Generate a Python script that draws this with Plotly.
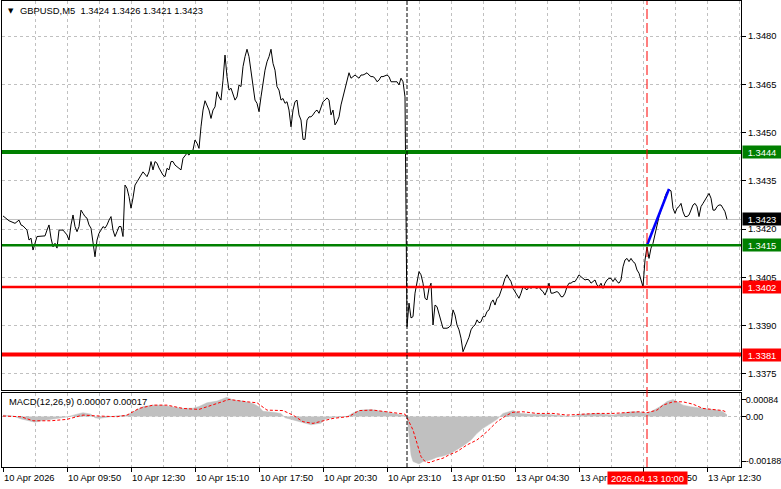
import plotly.graph_objects as go

# ---------------- data ----------------
symbol = "GBPUSD,M5"
ohlc_last = [1.3424, 1.3426, 1.3421, 1.3423]

bar_idx = [0, 3, 6, 8, 9, 10, 12, 13, 14, 15, 17, 19, 21, 22, 23, 24, 25, 26, 27, 28,
           30, 32, 33, 34, 35, 36, 37, 38, 39, 40, 41, 42, 43, 44, 45, 46, 47, 48, 49, 50,
           51, 52, 53, 54, 55, 56, 57, 58, 59, 60, 61, 62, 63, 64, 65, 66, 67, 68, 69, 70,
           72, 73, 74, 75, 76, 77, 78, 79, 80, 81, 82, 83, 84, 85, 86, 87, 88, 89, 90, 91,
           92, 93, 94, 95, 96, 97, 98, 99, 100, 101, 102, 103, 104, 105, 106, 107, 108, 109, 110, 111,
           112, 113, 114, 115, 116, 117, 118, 119, 120, 121, 122, 123, 124, 125, 126, 127, 128, 129, 130, 131,
           132, 133, 134, 135, 136, 137, 138, 139, 140, 141, 142, 143, 144, 145, 146, 147, 148, 149, 150, 151,
           152, 153, 154, 155, 156, 157, 158, 159, 160, 161, 162, 163, 164, 165, 166, 167, 168, 169, 170, 171,
           172, 173, 174, 175, 176, 177, 178, 179, 180, 181, 182, 183, 184, 185, 186, 187, 188, 189, 190, 192,
           193, 194, 195, 197, 198, 199, 200, 201, 202, 203, 204, 205, 206, 207, 208, 209, 210, 211, 212, 213,
           214, 215, 216, 217, 218, 219, 220, 222, 223, 224, 225, 226, 227, 228, 229, 230, 231, 232, 233, 234,
           235, 236, 237, 238, 239, 240, 241, 242, 243, 244, 245, 246, 247, 248, 249, 250, 251, 252, 253, 254,
           255, 256, 257, 258, 259, 260, 261, 262, 263, 264, 265, 267, 268, 269, 270, 271, 272, 273, 274, 275,
           277, 278, 279, 280, 281, 282, 283, 284, 285, 286, 287, 288, 289, 290, 291, 292, 293, 294, 295, 296,
           297, 298, 299, 300, 301, 302, 303, 304, 305, 306, 307, 308, 309, 310, 311, 312, 313, 314, 315, 316,
           317, 318, 319, 320, 321, 322, 323, 324, 325, 326, 327, 328, 329, 330, 331, 332, 333, 334, 335, 336,
           337, 338, 339, 340, 341, 342, 343, 344, 345, 346, 347, 348, 349, 350, 351, 352, 353, 354, 355, 356,
           357, 358, 359, 360, 361, 362]

close = [1.34241, 1.34226, 1.34218, 1.34228, 1.34213, 1.34210, 1.34197, 1.34166, 1.34172, 1.34135,
         1.34177, 1.34179, 1.34179, 1.34197, 1.34213, 1.34172, 1.34145, 1.34156, 1.34141, 1.34197,
         1.34197, 1.34182, 1.34166, 1.34213, 1.34244, 1.34208, 1.34192, 1.34208, 1.34259, 1.34249,
         1.34239, 1.34234, 1.34213, 1.34203, 1.34161, 1.34114, 1.34166, 1.34187, 1.34197, 1.34208,
         1.34203, 1.34213, 1.34228, 1.34239, 1.34197, 1.34177, 1.34192, 1.34208, 1.34208, 1.34177,
         1.34337, 1.34327, 1.34301, 1.34265, 1.34297, 1.34337, 1.34347, 1.34359, 1.34368, 1.34378,
         1.34363, 1.34378, 1.34410, 1.34384, 1.34410, 1.34405, 1.34390, 1.34378, 1.34368, 1.34363,
         1.34389, 1.34384, 1.34410, 1.34410, 1.34399, 1.34394, 1.34389, 1.34384, 1.34420, 1.34430,
         1.34436, 1.34430, 1.34441, 1.34446, 1.34477, 1.34467, 1.34451, 1.34518, 1.34570, 1.34599,
         1.34586, 1.34570, 1.34544, 1.34570, 1.34580, 1.34627, 1.34611, 1.34601, 1.34663, 1.34741,
         1.34674, 1.34632, 1.34638, 1.34617, 1.34601, 1.34611, 1.34648, 1.34643, 1.34705, 1.34736,
         1.34759, 1.34736, 1.34694, 1.34653, 1.34601, 1.34591, 1.34565, 1.34611, 1.34653, 1.34694,
         1.34720, 1.34736, 1.34759, 1.34715, 1.34694, 1.34643, 1.34632, 1.34601, 1.34606, 1.34591,
         1.34596, 1.34570, 1.34518, 1.34570, 1.34596, 1.34601, 1.34555, 1.34539, 1.34479, 1.34479,
         1.34539, 1.34549, 1.34549, 1.34555, 1.34565, 1.34570, 1.34560, 1.34580, 1.34596, 1.34601,
         1.34608, 1.34601, 1.34555, 1.34570, 1.34524, 1.34534, 1.34549, 1.34586, 1.34611, 1.34632,
         1.34653, 1.34686, 1.34669, 1.34674, 1.34679, 1.34674, 1.34669, 1.34679, 1.34679, 1.34682,
         1.34686, 1.34679, 1.34674, 1.34674, 1.34669, 1.34658, 1.34663, 1.34674, 1.34674, 1.34679,
         1.34674, 1.34658, 1.34658, 1.34658, 1.34648, 1.34669, 1.34658, 1.34611, 1.33897, 1.33970,
         1.33924, 1.33928, 1.34001, 1.34042, 1.34068, 1.34058, 1.34032, 1.33985, 1.33980, 1.34016,
         1.34032, 1.33902, 1.33964, 1.33959, 1.33939, 1.33918, 1.33892, 1.33892, 1.33895, 1.33902,
         1.33949, 1.33933, 1.33902, 1.33887, 1.33861, 1.33819, 1.33835, 1.33850, 1.33864, 1.33887,
         1.33897, 1.33902, 1.33918, 1.33909, 1.33912, 1.33928, 1.33928, 1.33944, 1.33949, 1.33971,
         1.33980, 1.33964, 1.33985, 1.33990, 1.34006, 1.34026, 1.34047, 1.34058, 1.34047, 1.34037,
         1.34016, 1.34006, 1.33995, 1.33985, 1.34001, 1.34021, 1.34016, 1.34011, 1.34021, 1.34016,
         1.34021, 1.34016, 1.34021, 1.34011, 1.34006, 1.33995, 1.34011, 1.34032, 1.34001, 1.34001,
         1.34006, 1.34001, 1.33990, 1.33990, 1.34001, 1.34021, 1.34032, 1.34032, 1.34037, 1.34037,
         1.34047, 1.34058, 1.34052, 1.34047, 1.34042, 1.34044, 1.34042, 1.34032, 1.34037, 1.34042,
         1.34026, 1.34021, 1.34032, 1.34016, 1.34032, 1.34042, 1.34047, 1.34047, 1.34037, 1.34047,
         1.34037, 1.34032, 1.34042, 1.34083, 1.34104, 1.34109, 1.34099, 1.34109, 1.34099, 1.34094,
         1.34073, 1.34063, 1.34042, 1.34021, 1.34104, 1.34145, 1.34109, 1.34141, 1.34156, 1.34187,
         1.34218, 1.34239, 1.34259, 1.34275, 1.34301, 1.34316, 1.34322, 1.34319, 1.34265, 1.34249,
         1.34265, 1.34270, 1.34280, 1.34254, 1.34239, 1.34239, 1.34244, 1.34259, 1.34275, 1.34280,
         1.34270, 1.34239, 1.34270, 1.34280, 1.34291, 1.34301, 1.34311, 1.34296, 1.34259, 1.34259,
         1.34270, 1.34275, 1.34275, 1.34265, 1.34254, 1.34230]

macd_hist_bar = [0, 5, 9, 12, 16, 20, 25, 32, 37, 40, 44, 46, 48, 52, 57, 62, 64, 67, 70, 75,
                 80, 85, 90, 95, 98, 102, 107, 112, 115, 120, 125, 128, 130, 135, 139, 141, 145, 150, 154, 159,
                 161, 165, 172, 175, 179, 184, 189, 194, 199, 201, 202, 203, 204, 205, 208, 210, 214, 217, 220, 224,
                 227, 230, 234, 237, 240, 244, 247, 250, 254, 255, 259, 264, 272, 280, 284, 289, 297, 305, 310, 314,
                 317, 322, 325, 329, 332, 335, 337, 340, 344, 349, 354, 357, 360, 362]
macd_hist = [0.00006, 0.00002, -0.00010, -0.00015, -0.00024, -0.00017, -0.00010, -0.00002, 0.00010, 0.00016,
             0.00010, -0.00005, -0.00008, -0.00003, 0.00003, 0.00005, 0.00015, 0.00030, 0.00042, 0.00048,
             0.00047, 0.00040, 0.00034, 0.00035, 0.00042, 0.00058, 0.00065, 0.00081, 0.00070, 0.00065,
             0.00055, 0.00040, 0.00022, 0.00018, 0.00013, -0.00005, -0.00015, -0.00028, -0.00035, -0.00028,
             -0.00012, -0.00004, 0.00000, 0.00015, 0.00027, 0.00030, 0.00022, 0.00014, 0.00008, 0.00004,
             0.00000, -0.00099, -0.00162, -0.00190, -0.00200, -0.00190, -0.00183, -0.00172, -0.00167, -0.00155,
             -0.00141, -0.00124, -0.00099, -0.00071, -0.00050, -0.00029, -0.00012, 0.00013, 0.00023, 0.00025,
             0.00013, 0.00010, 0.00009, 0.00002, 0.00000, 0.00009, 0.00013, 0.00006, 0.00013, 0.00020,
             0.00020, 0.00013, 0.00025, 0.00044, 0.00063, 0.00072, 0.00063, 0.00048, 0.00041, 0.00034,
             0.00030, 0.00027, 0.00020, 0.00007]

macd_sig_bar = [0, 9, 15, 24, 32, 40, 48, 57, 62, 68, 75, 82, 90, 98, 107, 113, 122, 127, 132, 140,
                145, 150, 155, 160, 165, 173, 178, 185, 192, 197, 201, 203, 205, 207, 209, 211, 213, 217, 220, 223,
                227, 232, 237, 242, 247, 252, 255, 260, 267, 275, 282, 288, 297, 305, 312, 318, 322, 327, 330, 335,
                340, 345, 350, 355, 360, 362]
macd_sig = [0.00002, -0.00001, -0.00018, -0.00018, -0.00012, 0.00006, 0.00002, -0.00001, 0.00006, 0.00034,
            0.00048, 0.00048, 0.00034, 0.00030, 0.00055, 0.00072, 0.00062, 0.00058, 0.00027, 0.00025,
            0.00006, -0.00022, -0.00029, -0.00018, -0.00008, 0.00000, 0.00025, 0.00027, 0.00020, 0.00015,
            0.00010, -0.00022, -0.00057, -0.00113, -0.00169, -0.00190, -0.00195, -0.00183, -0.00176, -0.00162,
            -0.00148, -0.00120, -0.00099, -0.00064, -0.00022, 0.00006, 0.00018, 0.00020, 0.00013, 0.00013,
            0.00006, 0.00009, 0.00013, 0.00013, 0.00016, 0.00020, 0.00016, 0.00027, 0.00048, 0.00062,
            0.00062, 0.00052, 0.00034, 0.00030, 0.00025, 0.00017]
macd_params = "MACD(12,26,9)"
macd_last = [0.00007, 0.00017]

price_ticks = [1.3375, 1.3390, 1.3405, 1.3420, 1.3435, 1.3450, 1.3465, 1.3480]
macd_tick_text = ["0.00084", "0.00", "-0.00188"]

label_bars = [0, 32, 64, 96, 128, 160, 192, 224, 256, 288, 320, 352]
time_labels = ["10 Apr 2026", "10 Apr 09:50", "10 Apr 12:30", "10 Apr 15:10", "10 Apr 17:50",
               "10 Apr 20:30", "10 Apr 23:10", "13 Apr 01:50", "13 Apr 04:30", "13 Apr 07:10",
               "13 Apr 09:50", "13 Apr 12:30"]
grid_bars = [16, 48, 80, 112, 144, 176, 208, 240, 272, 304, 336, 368]

support_resistance = [1.3444, 1.3415, 1.3402, 1.3381]
level_kind = ["buy", "buy", "sell", "sell"]

separator_bar = 202
marker_bar = 322
marker_label = "2026.04.13 10:00"
trend_bars = [322, 333]
trend_prices = [1.3415, 1.34325]

# ---------------- geometry / style ----------------
W, H = 781, 489
ML, MR, MT, MB = 2, 40, 1, 22
PW, PH = W - ML - MR, H - MT - MB
FONT = "Liberation Sans, Arial, sans-serif"
FS = 9.4
GRID = "#c0c0c0"


def pyp(y_px):
    return (H - MB - y_px) / PH


def pxp(x_px):
    return (x_px - ML) / PW


main_dom = [pyp(390), 1.0]
macd_dom = [0.0, pyp(393)]
x_range = [-0.5, 369]
y_range = [1.33700, 1.34909]
y2_range = [-0.002131, 0.000992]

fig = go.Figure()

fig.add_trace(go.Scatter(x=bar_idx, y=close, mode="lines",
                         line=dict(color="black", width=1), xaxis="x", yaxis="y",
                         hoverinfo="skip", showlegend=False))
fig.add_trace(go.Scatter(x=trend_bars, y=trend_prices, mode="lines",
                         line=dict(color="#0000ff", width=2.6), xaxis="x", yaxis="y",
                         hoverinfo="skip", showlegend=False))
fig.add_trace(go.Scatter(x=macd_hist_bar, y=macd_hist, mode="lines", fill="tozeroy",
                         fillcolor="#c0c0c0", line=dict(color="#c0c0c0", width=0.5),
                         xaxis="x2", yaxis="y2", hoverinfo="skip", showlegend=False))
fig.add_trace(go.Scatter(x=macd_sig_bar, y=macd_sig, mode="lines",
                         line=dict(color="#ff0000", width=1, dash="3px,2px"),
                         xaxis="x2", yaxis="y2", hoverinfo="skip", showlegend=False))

shapes = []
# bid line
shapes.append(dict(type="line", xref="x domain", yref="y", x0=0, x1=1,
                   y0=close[-1], y1=close[-1], line=dict(color="#c0c0c0", width=1), layer="below"))
# macd zero line
shapes.append(dict(type="line", xref="x2 domain", yref="y2", x0=0, x1=1, y0=0, y1=0,
                   line=dict(color="#c0c0c0", width=1, dash="3px,3px"), layer="below"))
widths = [4, 2.5, 2.5, 4]
for lvl, kind, w in zip(support_resistance, level_kind, widths):
    col = "#008000" if kind == "buy" else "#ff0000"
    shapes.append(dict(type="line", xref="x domain", yref="y", x0=0, x1=1, y0=lvl, y1=lvl,
                       line=dict(color=col, width=w), layer="above"))
shapes.append(dict(type="line", xref="x", yref="paper", x0=separator_bar, x1=separator_bar,
                   y0=0, y1=1, line=dict(color="black", width=1, dash="4px,2px")))
shapes.append(dict(type="line", xref="x", yref="paper", x0=marker_bar, x1=marker_bar,
                   y0=0, y1=1, line=dict(color="#ff0000", width=1, dash="10px,4px")))

ann = []
# title
ann.append(dict(xref="paper", yref="paper", x=pxp(10.5), y=pyp(11), text="▼", showarrow=False,
                xanchor="center", yanchor="middle", font=dict(family="DejaVu Sans", size=7, color="black")))
ann.append(dict(xref="paper", yref="paper", x=pxp(17.5), y=pyp(11),
                text=symbol + "  " + " ".join(f"{v:.4f}" for v in ohlc_last), showarrow=False,
                xanchor="left", yanchor="middle", font=dict(family=FONT, size=FS, color="black")))
# macd label
ann.append(dict(xref="paper", yref="paper", x=pxp(6.5), y=pyp(401.7),
                text=f"{macd_params} {macd_last[0]:.5f} {macd_last[1]:.5f}", showarrow=False,
                xanchor="left", yanchor="middle", font=dict(family=FONT, size=FS, color="black")))
# time labels
for b, t in zip(label_bars, time_labels):
    ann.append(dict(xref="x2", yref="paper", x=b, y=pyp(478), text=t, showarrow=False,
                    xanchor="left", yanchor="middle", xshift=-1.5,
                    font=dict(family=FONT, size=FS, color="black")))
ann.append(dict(xref="x2", yref="paper", x=marker_bar, y=pyp(477.5), text=marker_label,
                showarrow=False, xanchor="center", yanchor="middle", bgcolor="#ff0000",
                width=77, height=10, borderpad=1, font=dict(family=FONT, size=FS, color="white")))
# price boxes
boxes = list(zip(support_resistance, level_kind)) + [(close[-1], "bid")]
for lvl, kind in boxes:
    col = {"buy": "#008000", "sell": "#ff0000", "bid": "#000000"}[kind]
    ann.append(dict(xref="paper", yref="y", x=pxp(742), y=lvl, text=f"{lvl:.4f}", showarrow=False,
                    xanchor="left", yanchor="middle", bgcolor=col, width=36, height=10, borderpad=1,
                    align="center", font=dict(family=FONT, size=FS, color="white")))

axis_common = dict(showline=True, mirror=True, linecolor="black", linewidth=1, zeroline=False,
                   automargin=False)
fig.update_layout(
    template="none",
    width=W, height=H, autosize=False,
    margin=dict(l=ML, r=MR, t=MT, b=MB, pad=0, autoexpand=False),
    paper_bgcolor="white", plot_bgcolor="white",
    font=dict(family=FONT, size=FS, color="black"),
    showlegend=False,
    xaxis=dict(domain=[0, 1], anchor="y", range=x_range, tickvals=label_bars, showticklabels=False,
               ticks="", showgrid=True, gridcolor=GRID, griddash="3px,3px", gridwidth=1,
               minor=dict(tickvals=grid_bars, showgrid=True, gridcolor=GRID, griddash="3px,3px", ticks=""),
               **axis_common),
    yaxis=dict(domain=main_dom, anchor="x", side="right", range=y_range, tickvals=price_ticks,
               ticktext=[f"{v:.4f}" for v in price_ticks], ticks="outside", ticklen=4, tickcolor="black",
               showgrid=True, gridcolor=GRID, griddash="3px,3px", tickfont=dict(size=FS, family=FONT),
               **axis_common),
    xaxis2=dict(domain=[0, 1], anchor="y2", matches="x", range=x_range, tickvals=label_bars,
                showticklabels=False, ticks="outside", ticklen=4, tickcolor="black",
                showgrid=True, gridcolor=GRID, griddash="3px,3px",
                minor=dict(tickvals=grid_bars, showgrid=True, gridcolor=GRID, griddash="3px,3px", ticks=""),
                **axis_common),
    yaxis2=dict(domain=macd_dom, anchor="x2", side="right", range=y2_range,
                tickvals=[0.000717, 0.0, -0.00188], ticktext=macd_tick_text, ticks="outside", ticklen=4,
                tickcolor="black", showgrid=False, tickfont=dict(size=9, family=FONT),
                ticklabelstandoff=-2, **axis_common),
    shapes=shapes, annotations=ann,
)

fig.write_html(
    "out.html",
    config={"displayModeBar": False, "responsive": False, "staticPlot": True},
    post_script=("document.documentElement.style.overflow='hidden';"
                 "document.body.style.overflow='hidden';"
                 "document.body.style.margin='0';document.body.style.padding='0';"),
)
